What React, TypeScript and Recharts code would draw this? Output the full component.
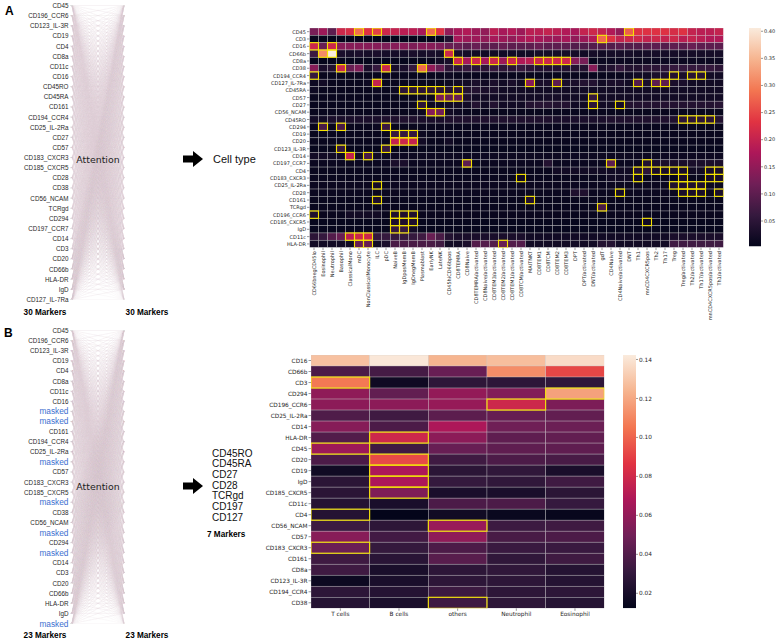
import { ScatterChart, Scatter, XAxis, YAxis, BarChart, Bar } from 'recharts'

// attention inputs (left and right columns are the same list)
const markersA = ['CD45', 'CD196_CCR6', 'CD123_IL-3R', 'CD19', 'CD4', 'CD8a', 'CD11c', 'CD16', 'CD45RO', 'CD45RA', 'CD161', 'CD194_CCR4', 'CD25_IL-2Ra', 'CD27', 'CD57', 'CD183_CXCR3', 'CD185_CXCR5', 'CD28', 'CD38', 'CD56_NCAM', 'TCRgd', 'CD294', 'CD197_CCR7', 'CD14', 'CD3', 'CD20', 'CD66b', 'HLA-DR', 'IgD', 'CD127_IL-7Ra']
const markersB = ['CD45', 'CD196_CCR6', 'CD123_IL-3R', 'CD19', 'CD4', 'CD8a', 'CD11c', 'CD16', 'masked', 'masked', 'CD161', 'CD194_CCR4', 'CD25_IL-2Ra', 'masked', 'CD57', 'CD183_CXCR3', 'CD185_CXCR5', 'masked', 'CD38', 'CD56_NCAM', 'masked', 'CD294', 'masked', 'CD14', 'CD3', 'CD20', 'CD66b', 'HLA-DR', 'IgD', 'masked']
const maskedList = ['CD45RO', 'CD45RA', 'CD27', 'CD28', 'TCRgd', 'CD197', 'CD127']

// panel A heatmap
const cellTypes = ['CD66bnegCD45lo', 'Eosinophil', 'Neutrophil', 'Basophil', 'ClassicalMono', 'mDC', 'NonClassicalMonocyte', 'ILC', 'pDC', 'NaiveB', 'IgDposMemB', 'IgDnegMemB', 'Plasmablast', 'EarlyNK', 'LateNK', 'CD45hiCD66bpos', 'CD8TEMRA', 'CD8Naive', 'CD8TEMRA/activated', 'CD8Naive/activated', 'CD8TEM3/activated', 'CD8TEM2/activated', 'CD8TEM1/activated', 'CD8TCM/activated', 'MAITNKT', 'CD8TEM1', 'CD8TCM', 'CD8TEM2', 'CD8TEM3', 'DPT', 'DPT/activated', 'DNT/activated', 'gdT', 'CD4Naive', 'CD4Naive/activated', 'DNT', 'Th1', 'mnCD4CXCR5pos', 'Th2', 'Th17', 'Treg', 'Treg/activated', 'Th2/activated', 'Th17/activated', 'mnCD4CXCR5pos/activated', 'Th1/activated']
const rowsA = ['CD45', 'CD3', 'CD16', 'CD66b', 'CD8a', 'CD38', 'CD194_CCR4', 'CD127_IL-7Ra', 'CD45RA', 'CD57', 'CD27', 'CD56_NCAM', 'CD45RO', 'CD294', 'CD19', 'CD20', 'CD123_IL-3R', 'CD14', 'CD197_CCR7', 'CD4', 'CD183_CXCR3', 'CD25_IL-2Ra', 'CD28', 'CD161', 'TCRgd', 'CD196_CCR6', 'CD185_CXCR5', 'IgD', 'CD11c', 'HLA-DR']

const aCD45 = [.125, .16, .10, .21, .22, .285, .23, .245, .21, .20, .19, .19, .17, .28, .23, .15, .17, .18, .16, .15, .19, .17, .18, .16, .19, .19, .20, .19, .18, .17, .20, .21, .20, .18, .15, .27, .23, .23, .23, .23, .22, .23, .20, .19, .19, .20]
const aCD3 = [.006, .005, .005, .005, .005, .006, .005, .005, .005, .005, .005, .005, .005, .006, .008, .04, .17, .16, .16, .15, .17, .16, .15, .17, .18, .17, .16, .16, .17, .15, .16, .18, .28, .23, .20, .21, .21, .20, .21, .20, .21, .19, .20, .19, .18, .18]
const aCD16 = [.21, .11, .21, .14, .14, .14, .14, .14, .13, .14, .14, .13, .14, .14, .13, .11, .11, .10, .11, .10, .10, .11, .10, .10, .10, .11, .10, .10, .10, .09, .09, .09, .09, .09, .10, .09, .09, .10, .10, .09, .10, .10, .11, .10, .10, .10]
const aCD66b = [.065, .31, .406, .03, .025, .03, .025, .03, .025, .025, .025, .03, .025, .03, .025, .21, .03, .025, .02, .02, .02, .02, .02, .02, .02, .025, .025, .025, .025, .025, .02, .025, .02, .025, .025, .025, .02, .025, .025, .025, .025, .025, .025, .025, .025, .025]
const aCD8a = [.006, .006, .006, .006, .006, .006, .006, .006, .006, .006, .006, .006, .006, .01, .02, .03, .21, .17, .21, .17, .21, .16, .21, .18, .19, .21, .21, .21, .21, .14, .125, .008, .015, .015, .015, .015, .015, .015, .015, .015, .015, .015, .015, .015, .015, .015]
const aCD38 = [.14, .03, .04, .21, .11, .13, .03, .06, .21, .03, .03, .06, .28, .15, .11, .05, .05, .06, .05, .05, .06, .05, .05, .06, .05, .04, .04, .04, .04, .04, .04, .14, .03, .04, .06, .04, .04, .05, .05, .05, .06, .06, .06, .06, .06, .05]
const aCD194 = [.06, .01, .01, .01, .01, .01, .01, .01, .01, .01, .01, .01, .01, .01, .01, .015, .01, .01, .01, .01, .01, .01, .01, .01, .01, .01, .01, .01, .01, .01, .01, .01, .01, .01, .01, .015, .02, .02, .03, .035, .04, .03, .045, .045, .02, .02]
const aCD127 = [.015, .02, .01, .01, .01, .01, .015, .20, .01, .01, .01, .01, .01, .01, .01, .015, .02, .02, .03, .02, .03, .02, .03, .02, .14, .03, .03, .10, .03, .03, .04, .04, .02, .03, .03, .02, .09, .03, .10, .10, .03, .03, .02, .02, .02, .02]
const aCD45RA = [.015, .01, .01, .01, .01, .01, .01, .015, .01, .015, .05, .05, .05, .05, .05, .04, .05, .04, .04, .03, .03, .02, .02, .02, .02, .02, .02, .02, .02, .02, .02, .02, .02, .02, .02, .02, .02, .02, .02, .02, .02, .02, .02, .02, .02, .02]
const aCD57 = [.01, .01, .01, .01, .01, .01, .01, .01, .01, .01, .01, .01, .015, .015, .13, .11, .11, .035, .02, .02, .02, .02, .02, .02, .02, .02, .025, .025, .02, .02, .02, .06, .02, .02, .02, .02, .02, .02, .02, .02, .02, .02, .02, .02, .02, .02]
const aCD27 = [.01, .01, .01, .01, .01, .01, .01, .01, .01, .01, .01, .015, .05, .015, .015, .02, .02, .02, .04, .02, .04, .02, .02, .02, .04, .045, .045, .04, .04, .02, .02, .05, .02, .02, .025, .04, .04, .04, .04, .04, .04, .04, .04, .04, .04, .045]
const aCD56 = [.01, .01, .01, .01, .01, .01, .01, .01, .01, .01, .01, .01, .015, .14, .12, .02, .015, .01, .01, .01, .01, .01, .01, .01, .01, .01, .01, .01, .01, .01, .01, .01, .01, .01, .01, .01, .01, .01, .01, .01, .01, .01, .01, .01, .01, .01]
const aCD45RO = [.02, .02, .03, .03, .03, .03, .03, .03, .035, .035, .035, .035, .03, .03, .03, .035, .035, .035, .035, .035, .035, .035, .035, .035, .035, .035, .035, .03, .03, .03, .03, .03, .03, .035, .035, .035, .035, .035, .035, .035, .035, .05, .05, .05, .05, .04]
const aCD294 = [.01, .08, .01, .08, .01, .01, .01, .015, .065, .01, .01, .01, .01, .01, .01, .01, .01, .01, .01, .01, .01, .01, .01, .01, .01, .01, .01, .01, .01, .01, .01, .01, .01, .01, .01, .01, .01, .01, .01, .01, .01, .01, .01, .01, .01, .01]
const aCD19 = [.01, .01, .01, .01, .01, .01, .01, .01, .01, .06, .06, .06, .015, .01, .01, .01, .01, .01, .01, .01, .01, .01, .01, .01, .01, .01, .01, .01, .01, .01, .01, .01, .01, .01, .01, .01, .01, .01, .01, .01, .01, .01, .01, .01, .01, .01]
const aCD20 = [.01, .01, .01, .01, .01, .01, .01, .01, .01, .20, .21, .20, .02, .01, .01, .02, .01, .01, .01, .01, .01, .01, .01, .01, .01, .01, .01, .01, .01, .01, .01, .01, .01, .01, .01, .01, .01, .01, .01, .01, .01, .01, .01, .01, .01, .01]
const aCD123 = [.008, .008, .008, .06, .008, .008, .008, .008, .06, .008, .008, .008, .008, .008, .008, .008, .008, .008, .008, .008, .008, .008, .008, .008, .008, .008, .008, .008, .008, .008, .008, .008, .008, .008, .008, .008, .008, .008, .008, .008, .008, .008, .008, .008, .008, .008]
const aCD14 = [.02, .02, .02, .02, .20, .02, .08, .02, .015, .015, .015, .015, .015, .015, .015, .015, .015, .015, .015, .015, .015, .015, .015, .015, .015, .015, .015, .015, .015, .015, .015, .015, .015, .015, .015, .015, .015, .015, .015, .015, .015, .015, .015, .015, .015, .015]
const aCD197 = [.012, .012, .012, .012, .012, .012, .012, .012, .012, .03, .03, .012, .012, .012, .012, .012, .012, .10, .012, .012, .012, .012, .012, .012, .012, .012, .04, .012, .012, .012, .012, .012, .012, .10, .012, .012, .012, .04, .03, .03, .03, .03, .03, .03, .03, .03]
const aCD4 = [.01, .01, .01, .01, .01, .01, .01, .01, .01, .01, .01, .01, .01, .01, .01, .01, .01, .01, .01, .01, .01, .01, .01, .01, .01, .01, .01, .02, .02, .02, .02, .02, .02, .02, .02, .02, .04, .05, .03, .03, .03, .03, .02, .02, .03, .03]
const aCD183 = [.01, .01, .01, .01, .01, .01, .01, .01, .01, .01, .01, .01, .01, .01, .01, .01, .01, .01, .01, .01, .01, .01, .01, .02, .01, .01, .01, .01, .01, .01, .01, .01, .01, .02, .02, .02, .02, .01, .01, .01, .01, .03, .01, .01, .03, .03]
const aCD25 = [.012, .012, .012, .012, .012, .012, .012, .025, .012, .012, .012, .012, .012, .012, .012, .012, .012, .012, .012, .012, .012, .012, .012, .012, .012, .012, .012, .012, .012, .012, .012, .012, .012, .012, .012, .012, .012, .012, .012, .012, .035, .035, .035, .035, .012, .012]
const aCD28 = [.012, .012, .012, .012, .012, .012, .012, .012, .012, .012, .012, .012, .012, .012, .012, .012, .012, .012, .012, .012, .012, .012, .012, .012, .012, .012, .012, .012, .012, .035, .035, .012, .012, .012, .025, .012, .012, .012, .012, .012, .012, .03, .03, .03, .012, .03]
const aCD161 = [.01, .01, .01, .01, .01, .01, .01, .035, .01, .01, .01, .01, .01, .01, .01, .01, .01, .01, .01, .01, .01, .01, .01, .01, .04, .01, .01, .01, .01, .01, .01, .01, .01, .01, .01, .01, .01, .01, .01, .01, .01, .01, .01, .01, .01, .01]
const aTCRgd = [.01, .01, .01, .01, .01, .01, .01, .01, .01, .01, .01, .01, .01, .01, .01, .01, .01, .01, .01, .01, .01, .01, .01, .01, .01, .01, .01, .01, .01, .01, .01, .01, .08, .01, .01, .01, .01, .01, .01, .01, .01, .01, .01, .01, .01, .01]
const aCD196 = [.035, .01, .01, .01, .02, .02, .02, .02, .01, .035, .035, .035, .01, .01, .01, .01, .01, .01, .01, .01, .01, .01, .01, .01, .01, .01, .01, .01, .01, .01, .01, .01, .01, .01, .01, .01, .01, .01, .01, .01, .01, .01, .01, .01, .01, .01]
const aCD185 = [.008, .008, .008, .008, .008, .008, .008, .008, .008, .035, .035, .035, .008, .008, .008, .008, .008, .008, .008, .008, .008, .008, .008, .008, .008, .008, .008, .008, .008, .008, .008, .008, .008, .008, .008, .008, .008, .02, .008, .008, .008, .008, .008, .008, .008, .008]
const aIgD = [.008, .008, .008, .008, .008, .008, .008, .008, .008, .06, .06, .02, .008, .008, .008, .008, .008, .008, .008, .008, .008, .008, .008, .008, .008, .008, .008, .008, .008, .008, .008, .008, .008, .008, .008, .008, .008, .008, .008, .008, .008, .008, .008, .008, .008, .008]
const aCD11c = [.05, .06, .09, .11, .19, .21, .21, .06, .06, .06, .06, .06, .07, .11, .08, .04, .03, .03, .03, .03, .03, .03, .03, .03, .02, .02, .02, .02, .02, .02, .02, .02, .02, .02, .02, .02, .02, .02, .02, .02, .03, .03, .03, .03, .03, .03]
const aHLADR = [.02, .02, .02, .02, .02, .11, .11, .02, .03, .08, .08, .08, .08, .08, .07, .02, .02, .03, .09, .09, .09, .11, .09, .09, .02, .02, .02, .02, .02, .02, .02, .02, .04, .04, .02, .02, .02, .02, .02, .02, .07, .07, .07, .07, .07, .07]

const valuesA = [aCD45, aCD3, aCD16, aCD66b, aCD8a, aCD38, aCD194, aCD127, aCD45RA, aCD57, aCD27, aCD56, aCD45RO, aCD294, aCD19, aCD20, aCD123, aCD14, aCD197, aCD4, aCD183, aCD25, aCD28, aCD161, aTCRgd, aCD196, aCD185, aIgD, aCD11c, aHLADR]
// boxed (yellow) cell-type indices per marker row
const boxedA = [[5, 7, 13, 35], [32], [0, 2], [1, 2, 15], [16, 18, 20, 22, 25, 26, 27, 28], [3, 8, 12], [0, 40, 42, 43], [7, 24, 27, 36, 38, 39], [10, 11, 12, 13, 14, 16], [14, 15, 16, 31], [12, 31, 34], [13, 14], [41, 42, 43, 44], [1, 3, 8], [9, 10, 11], [9, 10, 11], [3, 8], [4, 6], [17, 33, 37], [36, 38, 39, 40, 41, 44, 45], [23, 36, 41, 44, 45], [7, 40, 41, 42, 43], [34, 41, 42, 43, 45], [7, 24], [32], [0, 9, 10, 11], [9, 10, 11, 37], [9, 10], [4, 5, 6], [5, 6, 21]]

// panel B heatmap
const groupsB = ['T cells', 'B cells', 'others', 'Neutrophil', 'Eosinophil']
const rowsB = ['CD16', 'CD66b', 'CD3', 'CD294', 'CD196_CCR6', 'CD25_IL-2Ra', 'CD14', 'HLA-DR', 'CD45', 'CD20', 'CD19', 'IgD', 'CD185_CXCR5', 'CD11c', 'CD4', 'CD56_NCAM', 'CD57', 'CD183_CXCR3', 'CD161', 'CD8a', 'CD123_IL-3R', 'CD194_CCR4', 'CD38']
const bCD16 = [.128, .141, .124, .127, .137]
const bCD66b = [.038, .036, .047, .112, .092]
const bCD3 = [.106, .017, .028, .028, .029]
const bCD294 = [.059, .045, .060, .055, .118]
const bCD196 = [.058, .058, .061, .079, .053]
const bCD25 = [.039, .034, .043, .046, .045]
const bCD14 = [.056, .038, .068, .049, .048]
const bHLADR = [.040, .079, .058, .044, .045]
const bCD45 = [.063, .034, .047, .044, .044]
const bCD20 = [.038, .093, .034, .038, .037]
const bCD19 = [.0175, .068, .027, .029, .021]
const bIgD = [.027, .068, .0305, .029, .034]
const bCD185 = [.027, .054, .021, .021, .027]
const bCD11c = [.025, .021, .038, .038, .031]
const bCD4 = [.025, .0125, .0175, .015, .014]
const bCD56 = [.033, .028, .062, .033, .034]
const bCD57 = [.0565, .035, .059, .037, .038]
const bCD183 = [.048, .0305, .038, .032, .032]
const bCD161 = [.034, .0266, .042, .029, .034]
const bCD8a = [.034, .021, .028, .029, .025]
const bCD123 = [.016, .021, .028, .028, .025]
const bCD194 = [.028, .025, .033, .028, .028]
const bCD38 = [.025, .021, .034, .028, .025]
const valuesB = [bCD16, bCD66b, bCD3, bCD294, bCD196, bCD25, bCD14, bHLADR, bCD45, bCD20, bCD19, bIgD, bCD185, bCD11c, bCD4, bCD56, bCD57, bCD183, bCD161, bCD8a, bCD123, bCD194, bCD38]
const boxedB = [[], [], [0], [4], [3], [], [], [1], [0], [1], [1], [1], [1], [], [0], [2], [], [0], [], [], [], [], [2]]

const rangeA = [0.003, 0.406]
const ticksA = [0.05, 0.10, 0.15, 0.20, 0.25, 0.30, 0.35, 0.40]
const rangeB = [0.0123, 0.1423]
const ticksB = [0.02, 0.04, 0.06, 0.08, 0.10, 0.12, 0.14]

// seaborn "rocket"
const ROCKET = ['#03051a', '#35193e', '#701f57', '#ad1759', '#e13342', '#f37651', '#f6b48f', '#faebdd']
const SANS = 'Liberation Sans, Arial, sans-serif'
const MPL = 'DejaVu Sans, sans-serif'

function hexRgb(h: string) {
  return [1, 3, 5].map((i) => parseInt(h.slice(i, i + 2), 16))
}

function rocket(t: number) {
  const u = Math.min(1, Math.max(0, t)) * (ROCKET.length - 1)
  const i = Math.min(Math.floor(u), ROCKET.length - 2)
  const f = u - i
  const a = hexRgb(ROCKET[i])
  const b = hexRgb(ROCKET[i + 1])
  const c = a.map((v, k) => Math.round(v + (b[k] - v) * f))
  return `rgb(${c[0]},${c[1]},${c[2]})`
}

function MarkerTick(props: any) {
  const { x, y, payload, textAnchor, labels } = props
  const name = labels[payload.value]
  const masked = name === 'masked'
  return (
    <text x={x} y={y} textAnchor={textAnchor} dominantBaseline="central" fontSize={masked ? 8.3 : 6.3}
      fill={masked ? '#3d6fd0' : '#2a2a2a'} fontFamily={SANS}>{name}</text>
  )
}

function Attention({ markers, top, height }: { markers: string[]; top: number; height: number }) {
  const n = markers.length
  const idx = markers.map((_, i) => i)
  // every left marker fans out to every right marker
  const fans = markers.map((_, i) => markers.flatMap((__, j) => [{ x: 0, y: i }, { x: 1, y: j }]))
  return (
    <div style={{ position: 'absolute', left: 0, top }}>
      <ScatterChart width={190} height={height} margin={{ top: 5.5, right: 0, bottom: 5.5, left: 0 }}>
        <XAxis type="number" dataKey="x" domain={[0, 1]} hide />
        <YAxis yAxisId="l" type="number" dataKey="y" domain={[0, n - 1]} reversed ticks={idx} interval={0} width={72}
          axisLine={false} tickLine={{ stroke: '#c8c8c8', strokeWidth: 0.5 }} tickSize={2} tickMargin={1.5}
          tick={<MarkerTick labels={markers} />} />
        <YAxis yAxisId="r" orientation="right" type="number" dataKey="y" domain={[0, n - 1]} reversed ticks={idx} interval={0} width={66}
          axisLine={false} tickLine={{ stroke: '#c8c8c8', strokeWidth: 0.5 }} tickSize={2} tickMargin={0.5}
          tick={<MarkerTick labels={markers} />} />
        {fans.map((pts, i) => (
          <Scatter key={i} yAxisId="l" data={pts} fill="none"
            line={{ stroke: '#dcc8d2', strokeWidth: 0.3, strokeOpacity: 0.4 }}
            shape={() => <g />} isAnimationActive={false} legendType="none" />
        ))}
      </ScatterChart>
    </div>
  )
}

function Heatmap(p: any) {
  const { rows, cols, values, boxed, range, left, top, width, height, margin, yWidth, xHeight, fs, rotate } = p
  const plotW = width - margin.left - margin.right - yWidth
  const plotH = height - margin.top - margin.bottom - xHeight
  const cw = plotW / cols.length
  const ch = plotH / rows.length
  const cells: any[] = []
  rows.forEach((_: string, i: number) => cols.forEach((__: string, j: number) => cells.push({ x: j + 0.5, y: i + 0.5, v: values[i][j] })))
  const boxes: any[] = []
  boxed.forEach((js: number[], i: number) => js.forEach((j) => boxes.push({ x: j + 0.5, y: i + 0.5 })))
  const span = range[1] - range[0]

  const xTick = (t: any) => {
    const label = cols[Math.floor(t.payload.value)]
    if (rotate) {
      return <text x={t.x} y={t.y} transform={`rotate(-90 ${t.x} ${t.y})`} textAnchor="end" dominantBaseline="central"
        fontSize={fs} fill="#262626" fontFamily={MPL}>{label}</text>
    }
    return <text x={t.x} y={t.y} textAnchor="middle" dominantBaseline="hanging" fontSize={fs} fill="#262626" fontFamily={MPL}>{label}</text>
  }
  const yTick = (t: any) => (
    <text x={t.x} y={t.y} textAnchor="end" dominantBaseline="central" fontSize={fs} fill="#262626" fontFamily={MPL}>
      {rows[Math.floor(t.payload.value)]}
    </text>
  )

  return (
    <div style={{ position: 'absolute', left, top }}>
      <ScatterChart width={width} height={height} margin={margin}>
        <XAxis type="number" dataKey="x" domain={[0, cols.length]} allowDataOverflow ticks={cols.map((_: string, j: number) => j + 0.5)}
          interval={0} height={xHeight} axisLine={false} tickLine={{ stroke: '#333', strokeWidth: 0.5 }} tickSize={2.5} tickMargin={1}
          tick={xTick} />
        <YAxis type="number" dataKey="y" domain={[0, rows.length]} allowDataOverflow reversed ticks={rows.map((_: string, i: number) => i + 0.5)}
          interval={0} width={yWidth} axisLine={false} tickLine={{ stroke: '#333', strokeWidth: 0.5 }} tickSize={2.5} tickMargin={1}
          tick={yTick} />
        <Scatter data={cells} isAnimationActive={false} legendType="none"
          shape={(s: any) => (
            <rect x={s.cx - cw / 2} y={s.cy - ch / 2} width={cw} height={ch}
              fill={rocket((s.payload.v - range[0]) / span)} stroke="rgba(205,205,205,0.55)" strokeWidth={0.6} />
          )} />
        <Scatter data={boxes} isAnimationActive={false} legendType="none"
          shape={(s: any) => (
            <rect x={s.cx - cw / 2} y={s.cy - ch / 2} width={cw} height={ch} fill="none" stroke="#f5e400" strokeWidth={1.1} />
          )} />
      </ScatterChart>
    </div>
  )
}

function ColorBar(p: any) {
  const { range, ticks, left, top, width, height, margin, axisWidth, fs } = p
  return (
    <div style={{ position: 'absolute', left, top }}>
      <BarChart width={width} height={height} data={[{ name: 'cb', span: range }]} margin={margin} barCategoryGap={0}>
        <XAxis dataKey="name" hide />
        <YAxis orientation="right" type="number" domain={range} allowDataOverflow ticks={ticks} interval={0} width={axisWidth}
          tickFormatter={(v: number) => v.toFixed(2)} axisLine={false} tickLine={{ stroke: '#333', strokeWidth: 0.5 }}
          tickSize={2} tickMargin={1} tick={{ fontSize: fs, fill: '#262626', fontFamily: MPL }} />
        <Bar dataKey="span" fill="url(#rocketGrad)" isAnimationActive={false} legendType="none" />
      </BarChart>
    </div>
  )
}

function Arrow({ cy }: { cy: number }) {
  return <polygon points={`183,${cy - 3.5} 193,${cy - 3.5} 193,${cy - 8} 203,${cy} 193,${cy + 8} 193,${cy + 3.5} 183,${cy + 3.5}`} fill="#000" />
}

export default function App() {
  return (
    <div style={{ position: 'absolute', left: 0, top: 0, width: 777, height: 642, background: '#fff', overflow: 'hidden' }}>
      <svg width={0} height={0} style={{ position: 'absolute' }}>
        <defs>
          <linearGradient id="rocketGrad" x1="0" y1="1" x2="0" y2="0">
            {ROCKET.map((c, i) => <stop key={i} offset={i / (ROCKET.length - 1)} stopColor={c} />)}
          </linearGradient>
        </defs>
      </svg>

      <Attention markers={markersA} top={0} height={305} />
      <Attention markers={markersB} top={324.5} height={304} />

      <Heatmap rows={rowsA} cols={cellTypes} values={valuesA} boxed={boxedA} range={rangeA}
        left={230} top={20} width={510} height={300} margin={{ top: 8, right: 16.5, bottom: 0, left: 0 }}
        yWidth={79.5} xHeight={72.4} fs={5} rotate />
      <ColorBar range={rangeA} ticks={ticksA} left={740} top={20} width={37} height={240}
        margin={{ top: 8, right: 0, bottom: 13.5, left: 9 }} axisWidth={16} fs={5} />

      <Heatmap rows={rowsB} cols={groupsB} values={valuesB} boxed={boxedB} range={rangeB}
        left={230} top={345} width={390} height={290} margin={{ top: 10, right: 15.7, bottom: 0, left: 0 }}
        yWidth={81} xHeight={26.7} fs={5.8} rotate={false} />
      <ColorBar range={rangeB} ticks={ticksB} left={614} top={345} width={50} height={275}
        margin={{ top: 10, right: 0, bottom: 11.7, left: 9 }} axisWidth={28} fs={5.8} />

      <svg width={777} height={642} style={{ position: 'absolute', left: 0, top: 0, pointerEvents: 'none' }}>
        <text x={5} y={15} fontSize={12} fontWeight="bold" fontFamily={SANS}>A</text>
        <text x={4} y={337} fontSize={12} fontWeight="bold" fontFamily={SANS}>B</text>
        <text x={98} y={162.5} textAnchor="middle" fontSize={9.4} fontFamily={MPL} fill="#222">Attention</text>
        <text x={98} y={489.5} textAnchor="middle" fontSize={9.4} fontFamily={MPL} fill="#222">Attention</text>
        <text x={45} y={315} textAnchor="middle" fontSize={8.2} fontWeight="bold" fontFamily={SANS}>30 Markers</text>
        <text x={147} y={315} textAnchor="middle" fontSize={8.2} fontWeight="bold" fontFamily={SANS}>30 Markers</text>
        <text x={45} y={638} textAnchor="middle" fontSize={8.2} fontWeight="bold" fontFamily={SANS}>23 Markers</text>
        <text x={147} y={638} textAnchor="middle" fontSize={8.2} fontWeight="bold" fontFamily={SANS}>23 Markers</text>
        <Arrow cy={159} />
        <Arrow cy={486} />
        <text x={213} y={163} fontSize={11} fontFamily={SANS} fill="#111">Cell type</text>
        {maskedList.map((m, i) => (
          <text key={m} x={212} y={456.6 + i * 10.7} fontSize={10} fontFamily={SANS} fill="#111">{m}</text>
        ))}
        <text x={207} y={537} fontSize={8.2} fontWeight="bold" fontFamily={SANS}>7 Markers</text>
      </svg>
    </div>
  )
}
